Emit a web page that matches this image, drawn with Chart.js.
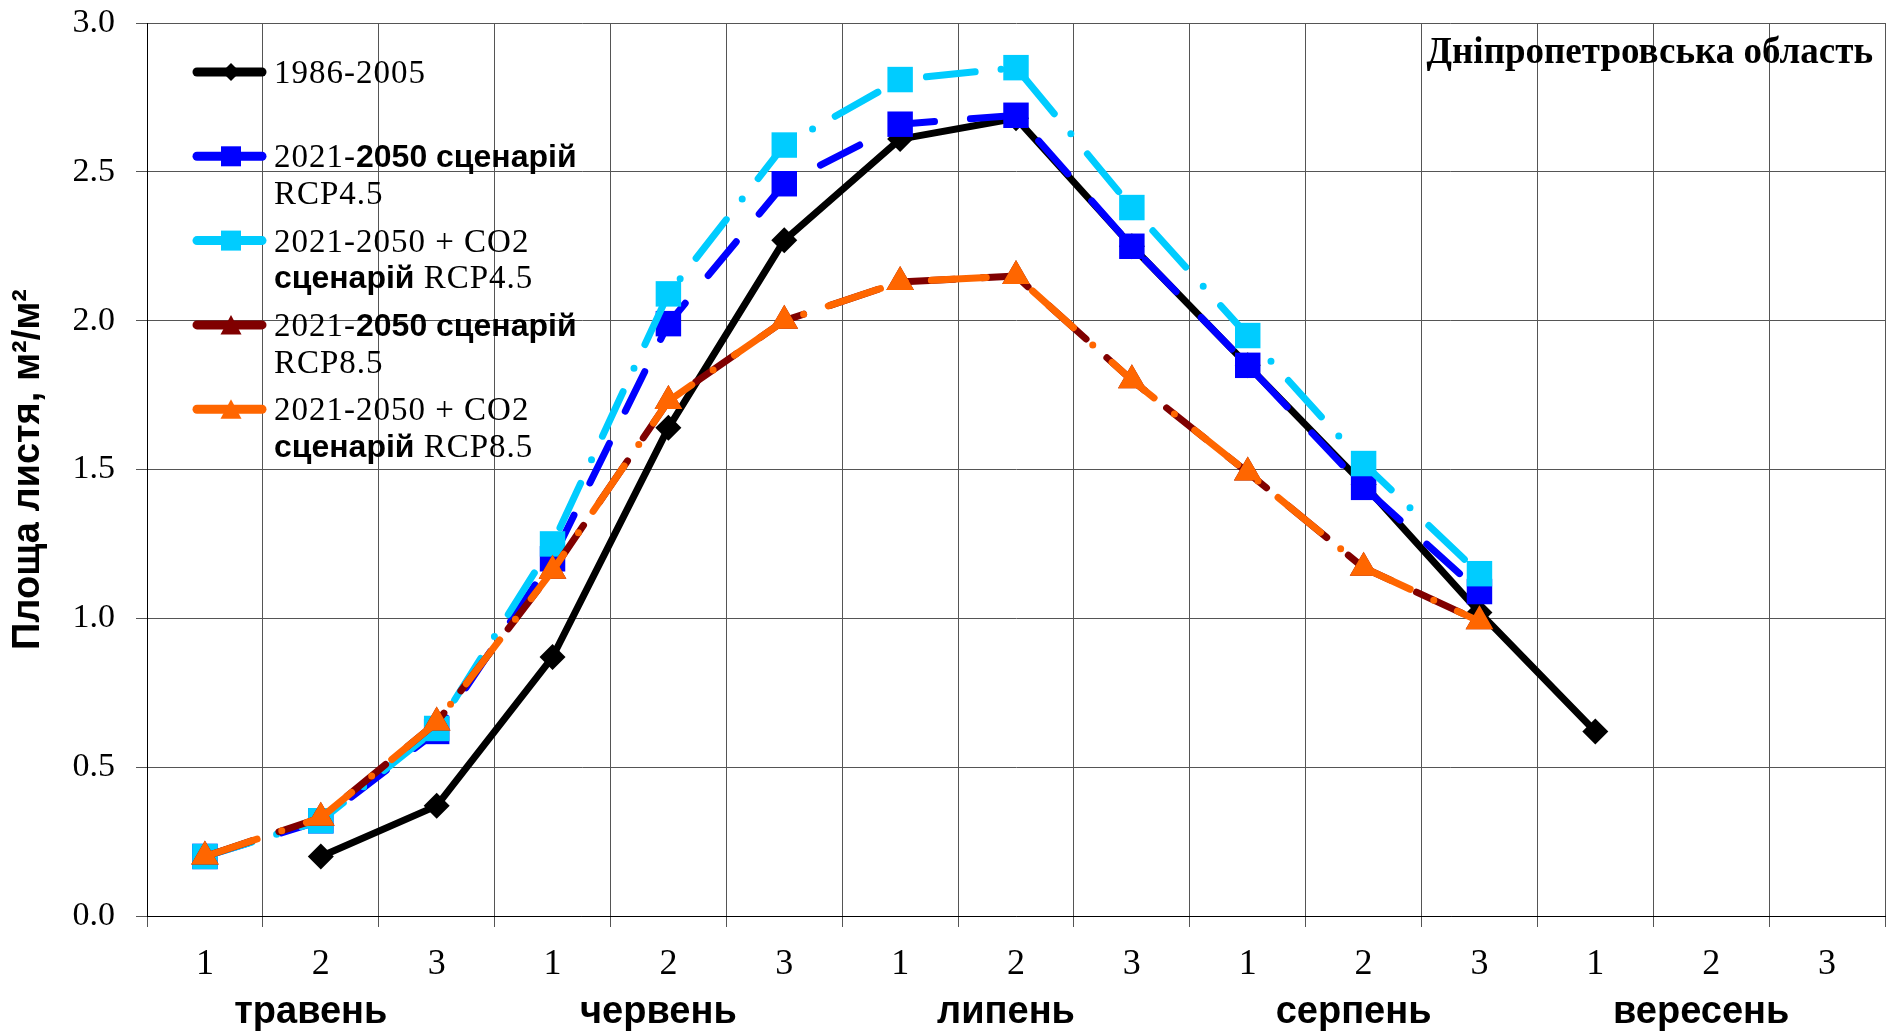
<!DOCTYPE html>
<html lang="uk">
<head>
<meta charset="utf-8">
<title>Площа листя — Дніпропетровська область</title>
<script src="https://cdn.jsdelivr.net/npm/chart.js@4/dist/chart.umd.min.js"></script>
<style>
  html, body { margin: 0; padding: 0; background: #ffffff; }
  canvas { display: block; }
</style>
</head>
<body>
<canvas id="chart" width="1894" height="1034"></canvas>
<script>
// Decades (1, 2, 3) of each month, May to September
const decades = ['1', '2', '3', '1', '2', '3', '1', '2', '3', '1', '2', '3', '1', '2', '3'];
const months = ['травень', 'червень', 'липень', 'серпень', 'вересень'];
const yTicks = [0, 0.5, 1.0, 1.5, 2.0, 2.5, 3.0];
const regionName = 'Дніпропетровська область';
const yTitle = 'Площа листя, м²/м²';

// Leaf area index, m²/m², by decade
const baseline1986 = [null, 0.20, 0.37, 0.87, 1.64, 2.27, 2.61, 2.68, 2.25, 1.85, 1.45, 1.02, 0.62, null, null];
const rcp45       = [0.20, 0.32, 0.62, 1.20, 1.99, 2.46, 2.66, 2.69, 2.25, 1.85, 1.44, 1.09, null, null, null];
const rcp45co2    = [0.20, 0.32, 0.63, 1.25, 2.09, 2.59, 2.81, 2.85, 2.38, 1.95, 1.52, 1.15, null, null, null];
const rcp85       = [0.20, 0.33, 0.65, 1.16, 1.73, 2.00, 2.13, 2.15, 1.80, 1.49, 1.17, 0.99, null, null, null];
const rcp85co2    = [0.20, 0.33, 0.65, 1.16, 1.73, 2.00, 2.13, 2.15, 1.80, 1.49, 1.17, 0.99, null, null, null];

// Series names; each line is a list of [text, bold] runs
const seriesNames = [
  [[['1986-2005', false]]],
  [[['2021-', false], ['2050 сценарій', true]], [['RCP4.5', false]]],
  [[['2021-2050 + CO2', false]], [['сценарій', true], [' RCP4.5', false]]],
  [[['2021-', false], ['2050 сценарій', true]], [['RCP8.5', false]]],
  [[['2021-2050 + CO2', false]], [['сценарій', true], [' RCP8.5', false]]]
];
const plainName = lines => lines.map(l => l.map(r => r[0]).join('')).join(' ');

const SERIF = '"Liberation Serif", "Times New Roman", serif';
const SANS = '"Liberation Sans", Arial, sans-serif';

// Legend drawn inside the plot, with mixed regular/bold runs
const seriesKey = {
  id: 'seriesKey',
  afterDatasetsDraw(chart) {
    const ctx = chart.ctx;
    const area = chart.chartArea;
    const lineX0 = area.left + 50, lineX1 = area.left + 115, markX = area.left + 84;
    const textX = area.left + 127;
    ctx.save();
    chart.data.datasets.forEach((ds, i) => {
      const y0 = area.top + 49 + i * 84.3;
      ctx.strokeStyle = ds.borderColor;
      ctx.fillStyle = ds.borderColor;
      ctx.lineWidth = 9;
      ctx.lineCap = 'round';
      ctx.setLineDash([]);
      ctx.beginPath();
      ctx.moveTo(lineX0, y0);
      ctx.lineTo(lineX1, y0);
      ctx.stroke();
      ctx.beginPath();
      if (ds.pointStyle === 'rectRot') {
        ctx.moveTo(markX - 9, y0); ctx.lineTo(markX, y0 - 9);
        ctx.lineTo(markX + 9, y0); ctx.lineTo(markX, y0 + 9);
      } else if (ds.pointStyle === 'rect') {
        ctx.rect(markX - 10, y0 - 10, 20, 20);
      } else {
        ctx.moveTo(markX, y0 - 10); ctx.lineTo(markX + 10.5, y0 + 9.5);
        ctx.lineTo(markX - 10.5, y0 + 9.5);
      }
      ctx.closePath();
      ctx.fill();

      ctx.fillStyle = '#000000';
      ctx.textBaseline = 'alphabetic';
      ctx.textAlign = 'left';
      seriesNames[i].forEach((line, li) => {
        let x = textX;
        const y = y0 + 11 + li * 36.7;
        line.forEach(([text, bold]) => {
          ctx.font = bold ? 'bold 32px ' + SANS : '33px ' + SERIF;
          ctx.letterSpacing = bold ? '0px' : '1px';
          ctx.fillText(text, x, y);
          x += ctx.measureText(text).width;
        });
      });
    });
    ctx.letterSpacing = '0px';
    ctx.font = 'bold 37px ' + SERIF;
    ctx.fillStyle = '#000000';
    ctx.textAlign = 'right';
    ctx.fillText(regionName, area.right - 12, area.top + 40);
    ctx.restore();
  }
};

function series(label, data, color, style, radius, dash, order) {
  return {
    label, data,
    borderColor: color,
    backgroundColor: color,
    borderWidth: 7,
    borderDash: dash,
    borderCapStyle: 'round',
    borderJoinStyle: 'round',
    pointStyle: style,
    pointRadius: radius,
    pointHoverRadius: radius,
    pointBackgroundColor: color,
    pointBorderColor: color,
    pointBorderWidth: 0,
    tension: 0,
    spanGaps: false,
    order
  };
}

const datasets = [
  series(plainName(seriesNames[0]), baseline1986, '#000000', 'rectRot', 13, [], 5),
  series(plainName(seriesNames[1]), rcp45, '#0000FF', 'rect', 18, [44, 36], 4),
  series(plainName(seriesNames[2]), rcp45co2, '#00CCFF', 'rect', 18, [49, 26, 0, 26], 3),
  series(plainName(seriesNames[3]), rcp85, '#800000', 'triangle', 16, [50, 28], 2),
  series(plainName(seriesNames[4]), rcp85co2, '#FF6600', 'triangle', 16, [55, 26, 0, 26], 1)
];

Chart.defaults.font.family = SERIF;
Chart.defaults.color = '#000000';

// Axes keep a fixed size and do not reserve room for overhanging end labels
function fixHorizontal(height) {
  return scale => { scale.height = height; scale.paddingLeft = 0; scale.paddingRight = 0; };
}

new Chart(document.getElementById('chart'), {
  type: 'line',
  data: { labels: decades, datasets },
  plugins: [seriesKey],
  options: {
    responsive: false,
    animation: false,
    devicePixelRatio: 1,
    layout: { autoPadding: false, padding: { top: 23, right: 9, left: 0, bottom: 0 } },
    plugins: {
      legend: { display: false },
      tooltip: { enabled: false },
      title: { display: false }
    },
    scales: {
      x: {
        type: 'category',
        position: 'bottom',
        weight: 0,
        offset: true,
        grid: { offset: true, color: '#555555', lineWidth: 1, tickLength: 11, drawTicks: true },
        border: { color: '#000000', width: 1 },
        ticks: {
          font: { family: SERIF, size: 36 },
          padding: 16,
          autoSkip: false,
          maxRotation: 0
        },
        afterFit: fixHorizontal(62)
      },
      month: {
        type: 'category',
        position: 'bottom',
        weight: 1,
        offset: true,
        grid: { display: false, drawTicks: false },
        border: { display: false },
        ticks: {
          font: { family: SANS, size: 38, weight: 'bold' },
          padding: 12,
          autoSkip: false,
          maxRotation: 0,
          labelOffset: -10,
          callback: (value, index) => (index % 3 === 1 ? months[Math.floor(index / 3)] : '')
        },
        afterFit: fixHorizontal(56)
      },
      y: {
        type: 'linear',
        min: yTicks[0],
        max: yTicks[yTicks.length - 1],
        afterBuildTicks(scale) { scale.ticks = yTicks.map(v => ({ value: v })); },
        grid: { color: '#555555', lineWidth: 1, tickLength: 11, drawTicks: true },
        border: { color: '#000000', width: 1 },
        ticks: {
          font: { family: SERIF, size: 34 },
          padding: 21,
          callback: v => v.toFixed(1)
        },
        title: {
          display: true,
          text: yTitle,
          font: { family: SANS, size: 38, weight: 'bold' },
          padding: { top: 6, bottom: 0 }
        },
        afterFit(scale) {
          scale.width = 147;
          scale.paddingTop = 0;
          scale.paddingBottom = 0;
        }
      }
    }
  }
});
</script>
</body>
</html>
